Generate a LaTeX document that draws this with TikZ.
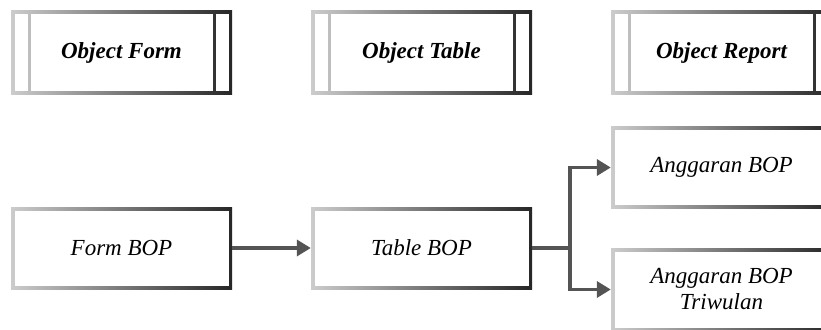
\documentclass[tikz,border=0pt]{standalone}
\usepackage{fontspec}
\setmainfont{Liberation Serif}
\usetikzlibrary{arrows.meta}
\begin{document}
\begin{tikzpicture}[x=1pt,y=-1pt,
  gbox/.style={rectangle, inner sep=0pt, minimum width=221pt, minimum height=82pt,
    left color=black!20, right color=black!85,
    font=\fontsize{23}{26}\selectfont\itshape, align=center,
    path picture={\fill[white] ([shift={(3.5pt,-3.5pt)}]path picture bounding box.north west)
      rectangle ([shift={(-3.5pt,3.5pt)}]path picture bounding box.south east);}},
  objbox/.style={rectangle, inner sep=0pt, minimum width=221pt, minimum height=83pt,
    left color=black!20, right color=black!85,
    font=\fontsize{23}{26}\selectfont\bfseries\itshape,
    path picture={
      \fill[white] ([shift={(3.5pt,-3.5pt)}]path picture bounding box.north west)
        rectangle ([shift={(16.5pt,3.5pt)}]path picture bounding box.south west);
      \fill[white] ([shift={(19.5pt,-3.5pt)}]path picture bounding box.north west)
        rectangle ([shift={(-19.5pt,3.5pt)}]path picture bounding box.south east);
      \fill[white] ([shift={(-16.5pt,-3.5pt)}]path picture bounding box.north east)
        rectangle ([shift={(-3.5pt,3.5pt)}]path picture bounding box.south east);}},
  conn/.style={draw=black!67, line width=3.6pt},
  arr/.style={conn, -{Triangle[length=14pt,width=16pt]}}
]
\useasboundingbox (0,0) rectangle (821,329);
\clip (0,0) rectangle (821,329);

\node[objbox] (of) at (121.5,52.5) {Object Form};
\node[objbox] (ot) at (421.5,52.5) {Object Table};
\node[objbox] (orp) at (721.5,52.5) {Object Report};

\node[gbox] (fb) at (121.5,248) {Form BOP};
\node[gbox] (tb) at (421.5,248) {Table BOP};
\node[gbox] (ab) at (721.5,167.5) {Anggaran BOP};
\node[gbox, minimum height=83pt] (at) at (721.5,289.5) {Anggaran BOP\\Triwulan};

\coordinate (br) at (570,248);
\draw[arr] (fb.east) -- (tb.west);
\draw[conn] (tb.east) -- (br);
\draw[arr] (br) |- (ab.west);
\draw[arr] (br) |- (at.west);
\end{tikzpicture}
\end{document}
